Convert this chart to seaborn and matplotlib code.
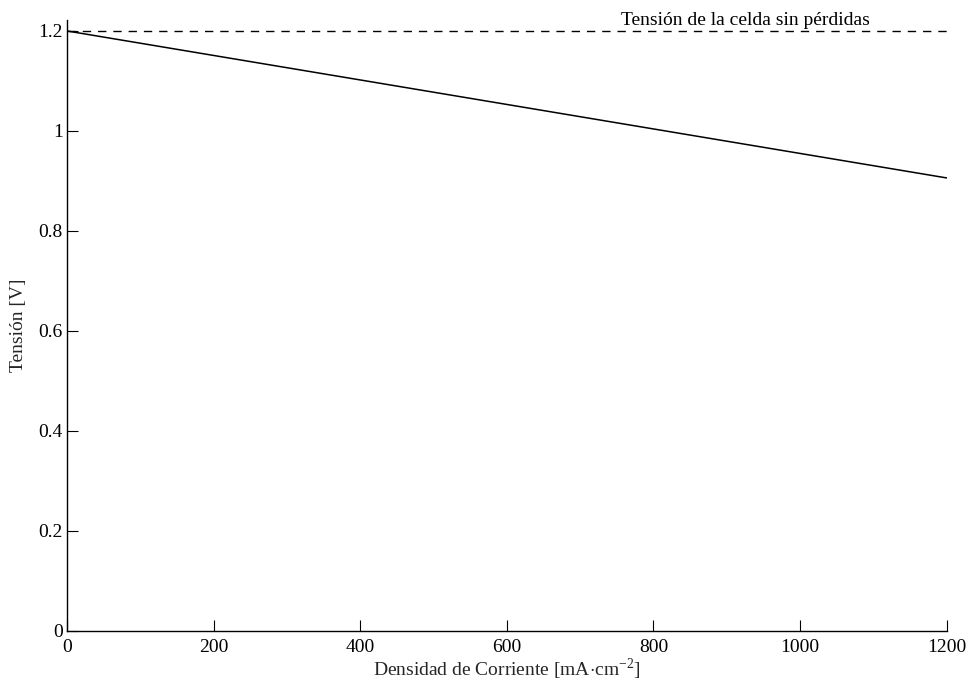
import matplotlib
matplotlib.use("Agg")
import matplotlib.pyplot as plt
import pandas as pd
import seaborn as sns

# Polarization curve
current_density = [0, 200, 400, 600, 800, 1000, 1200]
voltage = [1.200, 1.151, 1.102, 1.053, 1.004, 0.955, 0.906]
ideal_voltage = 1.2
xticks = [0, 200, 400, 600, 800, 1000, 1200]
yticks = [0, 0.2, 0.4, 0.6, 0.8, 1.0, 1.2]
ytick_labels = ["0", "0.2", "0.4", "0.6", "0.8", "1", "1.2"]

df = pd.DataFrame({"j": current_density, "v": voltage})

sns.set_theme(style="ticks")
plt.rcParams["font.family"] = ["Liberation Serif", "DejaVu Serif"]
plt.rcParams["mathtext.fontset"] = "custom"
plt.rcParams["mathtext.rm"] = "Liberation Serif"

fig = plt.figure(figsize=(9.7, 6.88), dpi=100)
ax = fig.add_axes([0.069, 0.083, 0.907, 0.888])

sns.lineplot(data=df, x="j", y="v", color="black", linewidth=1.1, ax=ax)
ax.plot([current_density[0], current_density[-1]], [ideal_voltage, ideal_voltage],
         color="black", linestyle=(0, (6, 5)), linewidth=1.0)
ax.text(925, 1.212, "Tensión de la celda sin pérdidas", ha="center", va="baseline",
        fontsize=14, color="black", clip_on=False)

ax.set_xlim(0, 1200)
ax.set_ylim(0, 1.222)
ax.set_xticks(xticks)
ax.set_xticklabels([str(t) for t in xticks])
ax.set_yticks(yticks)
ax.set_yticklabels(ytick_labels)
ax.tick_params(direction="in", length=8, width=0.8, labelsize=14, colors="black", pad=3)
ax.tick_params(axis="x", pad=6)
ax.set_xlabel(r"Densidad de Corriente [mA$\cdot$cm$^{-2}$]", fontsize=14, labelpad=0)
ax.set_ylabel("Tensión [V]", fontsize=14, labelpad=8)
for side in ["top", "right"]:
    ax.spines[side].set_visible(False)
for side in ["left", "bottom"]:
    ax.spines[side].set_color("black")
    ax.spines[side].set_linewidth(1.0)

fig.savefig("out.png", dpi=100)
